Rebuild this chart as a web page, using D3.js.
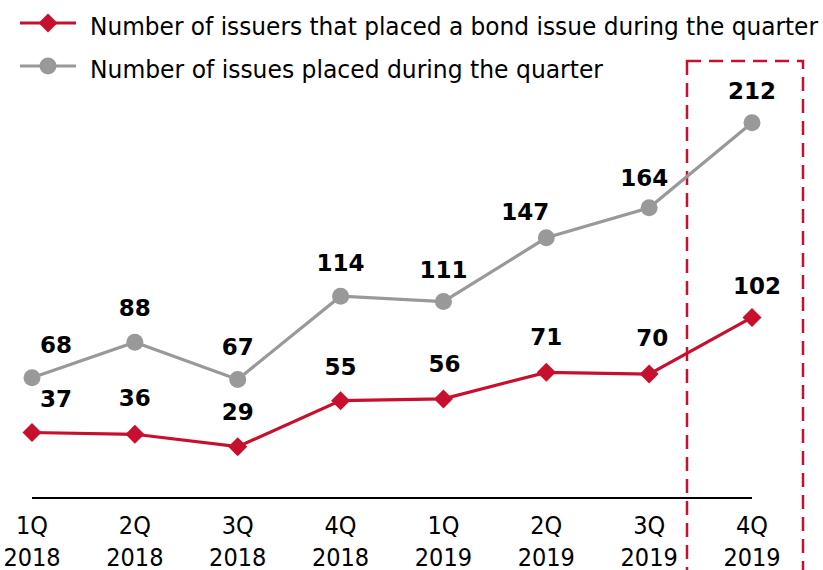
<!DOCTYPE html>
<html>
<head>
<meta charset="utf-8">
<script src="https://cdn.jsdelivr.net/npm/d3@7/dist/d3.min.js"></script>
<style>
  html, body { margin: 0; padding: 0; background: #fff; }
  svg { display: block; }
</style>
</head>
<body>
<svg id="chart" width="823" height="570"></svg>
<script>
// ---- data ----
const quarters = ["1Q", "2Q", "3Q", "4Q", "1Q", "2Q", "3Q", "4Q"];
const years = ["2018", "2018", "2018", "2018", "2019", "2019", "2019", "2019"];
const issuers = [37, 36, 29, 55, 56, 71, 70, 102];
const issues = [68, 88, 67, 114, 111, 147, 164, 212];
const seriesNames = [
  "Number of issuers that placed a bond issue during the quarter",
  "Number of issues placed during the quarter"
];

// ---- drawing ----
const RED = "#c8102e";
const GRAY = "#999999";
const svg = d3.select("#chart");
const cats = quarters.map((q, i) => q + " " + years[i]);

const x = d3.scalePoint().domain(cats).range([32, 752]);
const y = d3.scaleLinear().domain([0, 250]).range([498, 55.5]);

// highlight box around the last quarter
svg.append("rect")
  .attr("x", 687).attr("y", 61)
  .attr("width", 116).attr("height", 540)
  .attr("fill", "none")
  .attr("stroke", RED).attr("stroke-width", 2.5)
  .attr("stroke-dasharray", "14,8");

// axis baseline
svg.append("line")
  .attr("x1", x(cats[0])).attr("x2", x(cats[cats.length - 1]))
  .attr("y1", y(0)).attr("y2", y(0))
  .attr("stroke", "#000").attr("stroke-width", 2);

// x labels
const xl = svg.append("g").attr("font-family", "'DejaVu Sans Condensed', 'DejaVu Sans', sans-serif")
  .attr("font-size", 25).attr("fill", "#000").attr("text-anchor", "middle");
cats.forEach((c, i) => {
  xl.append("text").attr("x", x(c)).attr("y", 534).text(quarters[i]);
  xl.append("text").attr("x", x(c)).attr("y", 566).text(years[i]);
});

const line = d3.line().x((d, i) => x(cats[i])).y(d => y(d));

// gray series
svg.append("path").datum(issues).attr("d", line)
  .attr("fill", "none").attr("stroke", GRAY).attr("stroke-width", 3.2);
svg.selectAll(".gpt").data(issues).enter().append("circle")
  .attr("cx", (d, i) => x(cats[i])).attr("cy", d => y(d)).attr("r", 8.5)
  .attr("fill", GRAY);

// red series
svg.append("path").datum(issuers).attr("d", line)
  .attr("fill", "none").attr("stroke", RED).attr("stroke-width", 3.2);
const diamond = s => `M0,${-s}L${s},0L0,${s}L${-s},0Z`;
svg.selectAll(".rpt").data(issuers).enter().append("path")
  .attr("transform", (d, i) => `translate(${x(cats[i])},${y(d)})`)
  .attr("d", diamond(9.5)).attr("fill", RED);

// value labels
const grayDx = [24, 0, 0, 0, 0, -21, -5, 0];
const grayDy = [-25, -26, -24, -25, -24, -18, -22, -24];
const redDx = [24, 0, 0, 0, 1, 0, 3, 5];
const redDy = [-26, -28, -27, -26, -27, -27, -28, -23];
const lbl = svg.append("g").attr("font-family", "'DejaVu Sans', sans-serif")
  .attr("font-weight", "bold").attr("font-size", 23).attr("fill", "#000")
  .attr("text-anchor", "middle");
issues.forEach((v, i) => {
  lbl.append("text").attr("x", x(cats[i]) + grayDx[i]).attr("y", y(v) + grayDy[i]).text(v);
});
issuers.forEach((v, i) => {
  lbl.append("text").attr("x", x(cats[i]) + redDx[i]).attr("y", y(v) + redDy[i]).text(v);
});

// legend
const leg = svg.append("g");
const legItems = [
  { name: seriesNames[0], color: RED, y: 23, shape: "diamond", tl: 728 },
  { name: seriesNames[1], color: GRAY, y: 66, shape: "circle", tl: 513 }
];
legItems.forEach(it => {
  leg.append("line").attr("x1", 20).attr("x2", 76).attr("y1", it.y).attr("y2", it.y)
    .attr("stroke", it.color).attr("stroke-width", 3.2);
  if (it.shape === "diamond") {
    leg.append("path").attr("transform", `translate(48,${it.y})`).attr("d", diamond(9.5)).attr("fill", it.color);
  } else {
    leg.append("circle").attr("cx", 48).attr("cy", it.y).attr("r", 8.5).attr("fill", it.color);
  }
  leg.append("text").attr("x", 90).attr("y", it.y + 12)
    .attr("font-family", "'DejaVu Sans Condensed', 'DejaVu Sans', sans-serif")
    .attr("font-size", 25).attr("fill", "#000")
    .attr("textLength", it.tl).attr("lengthAdjust", "spacingAndGlyphs")
    .text(it.name);
});
</script>
</body>
</html>
